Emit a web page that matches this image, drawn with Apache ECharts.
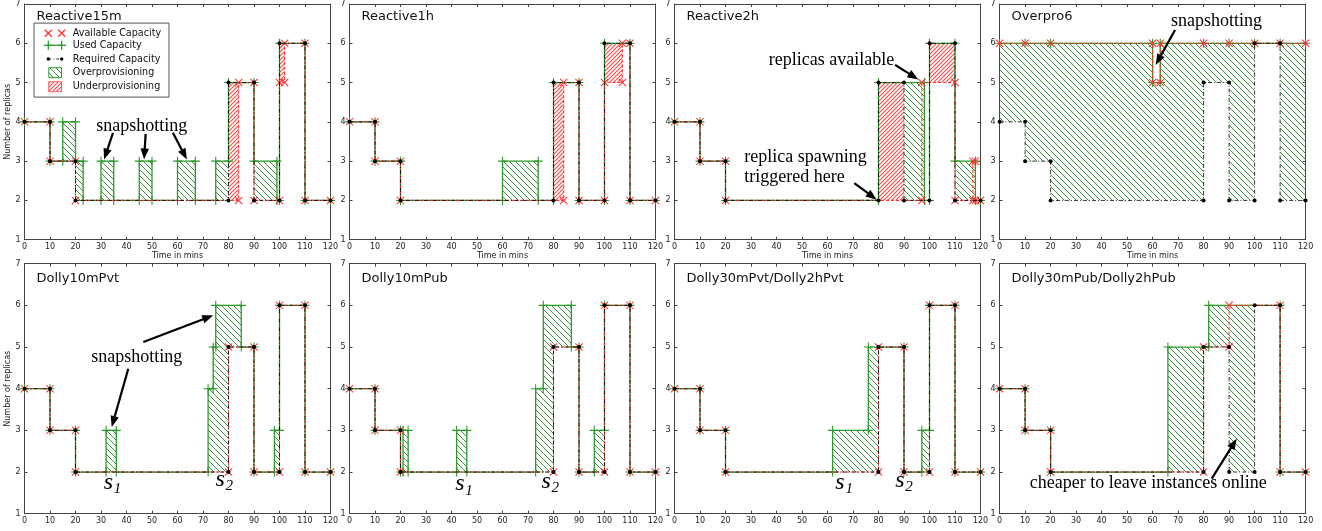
<!DOCTYPE html>
<html><head><meta charset="utf-8">
<script src="https://cdn.jsdelivr.net/npm/echarts@6.0.0/dist/echarts.min.js"></script>
<style>html,body{margin:0;padding:0;background:#fff}#c{width:1322px;height:531px}</style>
</head><body><div id="c"></div>
<script>
// ---------------- DATA ----------------
const panelTitles = ['Reactive15m','Reactive1h','Reactive2h','Overpro6',
  'Dolly10mPvt','Dolly10mPub','Dolly30mPvt/Dolly2hPvt','Dolly30mPub/Dolly2hPub'];
const xTicks = [0,10,20,30,40,50,60,70,80,90,100,110,120];
const yTicks = [1,2,3,4,5,6,7];
// step series: [time in mins, replicas] - value holds from that time on
const requiredCapacity = [[0,4],[10,3],[20,2],[80,5],[90,2],[100,6],[110,2]];
const usedReactive15m  = [[0,4],[10,3],[15,4],[20,3],[23,2],[30,3],[35,2],[45,3],[50,2],[60,3],[67,2],[75,3],[80,5],[90,3],[99,2],[100,6],[110,2]];
const availReactive15m = [[0,4],[10,3],[20,2],[84,5],[90,2],[100,5],[102,6],[110,2]];
const usedReactive1h   = [[0,4],[10,3],[20,2],[60,3],[74,2],[80,5],[90,2],[100,6],[110,2]];
const availReactive1h  = [[0,4],[10,3],[20,2],[84,5],[90,2],[100,5],[107,6],[110,2]];
const usedReactive2h   = [[0,4],[10,3],[20,2],[80,5],[98,2],[100,6],[110,3],[118,2]];
const availReactive2h  = [[0,4],[10,3],[20,2],[97,5],[110,2],[117,3],[118,2]];
const usedOverpro6     = [[0,6],[10,6],[20,6],[60,5],[63,6],[80,6],[90,6],[100,6],[110,6]];
const availOverpro6    = [[0,6],[10,6],[20,6],[60,5],[63,6],[80,6],[90,6],[100,6],[110,6]];
const usedDolly10mPvt  = [[0,4],[10,3],[20,2],[32,3],[36,2],[72,4],[74,5],[75,6],[85,5],[90,2],[98,3],[100,6],[110,2]];
const availDolly10mPvt = [[0,4],[10,3],[20,2],[80,5],[90,2],[100,6],[110,2]];
const usedDolly10mPub  = [[0,4],[10,3],[20,2],[21,3],[23,2],[42,3],[46,2],[73,4],[76,6],[87,5],[90,2],[96,3],[100,6],[110,2]];
const availDolly10mPub = [[0,4],[10,3],[20,2],[80,5],[90,2],[100,6],[110,2]];
const usedDolly30mPvt  = [[0,4],[10,3],[20,2],[62,3],[76,5],[90,2],[97,3],[100,6],[110,2]];
const availDolly30mPvt = [[0,4],[10,3],[20,2],[80,5],[90,2],[100,6],[110,2]];
const usedDolly30mPub  = [[0,4],[10,3],[20,2],[66,5],[82,6],[110,2]];
const availDolly30mPub = [[0,4],[10,3],[20,2],[80,5],[90,6],[110,2]];

const usedList  = [usedReactive15m, usedReactive1h, usedReactive2h, usedOverpro6,
                   usedDolly10mPvt, usedDolly10mPub, usedDolly30mPvt, usedDolly30mPub];
const availList = [availReactive15m, availReactive1h, availReactive2h, availOverpro6,
                   availDolly10mPvt, availDolly10mPub, availDolly30mPvt, availDolly30mPub];

// annotations (data coordinates of each panel)
const noteTexts = [
  {panel:0, text:'snapshotting', at:[46,3.9]},
  {panel:2, text:'replicas available', at:[61.6,5.58]},
  {panel:2, text:'replica spawning\ntriggered here', at:[27.4,2.845], align:'left'},
  {panel:3, text:'snapshotting', at:[85.1,6.55]},
  {panel:4, text:'snapshotting', at:[44,4.76]},
  {panel:7, text:'cheaper to leave instances online', at:[58.3,1.72]}
];
const noteArrows = [
  {panel:0, from:[34.7,3.72], to:[31.2,3.04]},
  {panel:0, from:[47.5,3.69], to:[46.9,3.04]},
  {panel:0, from:[58.2,3.72], to:[63.7,3.04]},
  {panel:2, from:[86.5,5.45], to:[95.6,5.08]},
  {panel:2, from:[70.5,2.44], to:[79.3,2.02]},
  {panel:3, from:[68.8,6.34], to:[61.2,5.45]},
  {panel:4, from:[46.6,5.12], to:[74.0,5.76]},
  {panel:4, from:[40.7,4.48], to:[34.2,3.08]},
  {panel:7, from:[83.2,1.84], to:[93.0,2.8]}
];
const snapLabels = [
  {panel:4, sub:'1', at:[32.9,1.69]}, {panel:4, sub:'2', at:[76.7,1.76]},
  {panel:5, sub:'1', at:[43.3,1.65]}, {panel:5, sub:'2', at:[77.1,1.71]},
  {panel:6, sub:'1', at:[64.9,1.69]}, {panel:6, sub:'2', at:[88.4,1.73]}
];

// ---------------- HELPERS ----------------
const XMIN = xTicks[0], XMAX = xTicks[xTicks.length-1];
function stepVertices(ch) {
  const out = [];
  ch.forEach(([t, v], i) => {
    if (i === 0) { out.push([t, v]); return; }
    const pv = ch[i-1][1];
    out.push([t, pv]);
    if (pv !== v) out.push([t, v]);
  });
  out.push([XMAX, ch[ch.length-1][1]]);
  return out;
}
function valAt(ch, t) { let v = ch[0][1]; for (const [tt, vv] of ch) if (tt <= t) v = vv; return v; }
function provisioning(used, avail, req) {
  const ts = Array.from(new Set([...used, ...avail, ...req].map(d => d[0]).concat([XMAX]))).sort((a,b)=>a-b);
  const over = [], under = [];
  const push = (arr, r) => {
    const last = arr[arr.length-1];
    if (last && last[1] === r[0] && last[2] === r[2] && last[3] === r[3]) last[1] = r[1]; else arr.push(r);
  };
  for (let i = 0; i < ts.length-1; i++) {
    const a = ts[i], b = ts[i+1], m = (a+b)/2;
    const u = valAt(used, m), v = valAt(avail, m), r = valAt(req, m);
    if (u > r) push(over, [a, b, r, u]);
    if (v < r) push(under, [a, b, v, r]);
  }
  return {over, under};
}
function hatchCanvas(color, s, dir, lw) {
  const c = document.createElement('canvas'); c.width = c.height = s;
  const g = c.getContext('2d'); g.strokeStyle = color; g.lineWidth = lw; g.beginPath();
  if (dir === 'back') {
    g.moveTo(0,0); g.lineTo(s,s); g.moveTo(-1,s-1); g.lineTo(1,s+1); g.moveTo(s-1,-1); g.lineTo(s+1,1);
  } else {
    g.moveTo(0,s); g.lineTo(s,0); g.moveTo(-1,1); g.lineTo(1,-1); g.moveTo(s-1,s+1); g.lineTo(s+1,s-1);
  }
  g.stroke(); return c;
}
const greenPat = {image: hatchCanvas('#379637', 6, 'back', 1.0), repeat: 'repeat'};
const redPat   = {image: hatchCanvas('#ff4a4a', 4, 'fwd', 1.1), repeat: 'repeat'};

const GREEN = '#2a9a2a', RED = '#ff3030', FONT = 'DejaVu Sans', SERIF = 'Liberation Serif';
const PLUS = 'path://M0,4.4H10V5.6H0Z M4.4,0H5.6V10H4.4Z';
const CROSS = 'path://M0,0.9L0.9,0L10,9.1L9.1,10Z M9.1,0L10,0.9L0.9,10L0,9.1Z';

// ---------------- LAYOUT ----------------
const colLeft = [24.5, 349.5, 674.5, 999.6], plotW = 306;
const rowTop = [2.1, 263.7], rowH = [237.6, 250];

const grids = [], xAxes = [], yAxes = [], series = [], titles = [];
const axisCol = '#444';
panelTitles.forEach((title, i) => {
  const col = i % 4, row = Math.floor(i / 4);
  grids.push({left: colLeft[col], top: rowTop[row], width: plotW, height: rowH[row]});
  titles.push({text: title, left: colLeft[col] + 12, top: rowTop[row] + 8, padding: 0,
    textStyle: {fontSize: 13, fontWeight: 'normal', fontFamily: FONT, color: '#111'}});
});
const baseX = (i, pos) => ({gridIndex: i, type: 'value', min: XMIN, max: XMAX, interval: xTicks[1]-xTicks[0], position: pos,
  axisLine: {show: true, onZero: false, lineStyle: {color: axisCol, width: 1}},
  axisTick: {show: true, inside: true, length: 3, lineStyle: {color: axisCol}},
  splitLine: {show: false}});
const baseY = (i, pos) => ({gridIndex: i, type: 'value', min: yTicks[0], max: yTicks[yTicks.length-1], interval: 1, position: pos,
  axisLine: {show: true, onZero: false, lineStyle: {color: axisCol, width: 1}},
  axisTick: {show: true, inside: true, length: 3, lineStyle: {color: axisCol}},
  splitLine: {show: false}});
const lblStyle = {fontSize: 8, color: '#222', fontFamily: FONT};
for (let i = 0; i < 8; i++) {
  const row = Math.floor(i / 4);
  xAxes.push(Object.assign(baseX(i, 'bottom'), {axisLabel: Object.assign({margin: 3.5}, lblStyle),
    name: row === 0 ? 'Time in mins' : '', nameLocation: 'middle', nameGap: 12, nameTextStyle: lblStyle}));
  yAxes.push(Object.assign(baseY(i, 'left'), {axisLabel: Object.assign({margin: 4}, lblStyle),
    name: (i % 4 === 0) ? 'Number of replicas' : '', nameLocation: 'middle', nameGap: 9,
    nameTextStyle: {fontSize: 8, color: '#222', fontFamily: FONT}}));
}
for (let i = 0; i < 8; i++) {
  xAxes.push(Object.assign(baseX(i, 'top'), {axisLabel: {show: false}}));
  yAxes.push(Object.assign(baseY(i, 'right'), {axisLabel: {show: false}}));
}

const rectRender = pat => (params, api) => {
  const a = api.coord([api.value(0), api.value(3)]);
  const b = api.coord([api.value(1), api.value(2)]);
  return {type: 'rect', shape: {x: a[0], y: a[1], width: b[0]-a[0], height: b[1]-a[1]}, style: {fill: pat}};
};
for (let i = 0; i < 8; i++) {
  const prov = provisioning(usedList[i], availList[i], requiredCapacity);
  const common = {xAxisIndex: i, yAxisIndex: i, silent: true, animation: false};
  series.push(Object.assign({type: 'custom', name: 'Overprovisioning', z: 1, renderItem: rectRender(greenPat),
    dimensions: ['x0','x1','y0','y1'], encode: {x: [0,1], y: [2,3]}, data: prov.over}, common));
  series.push(Object.assign({type: 'custom', name: 'Underprovisioning', z: 1, renderItem: rectRender(redPat),
    dimensions: ['x0','x1','y0','y1'], encode: {x: [0,1], y: [2,3]}, data: prov.under}, common));
  series.push(Object.assign({type: 'line', name: 'Used Capacity', z: 2, data: stepVertices(usedList[i]),
    symbol: PLUS, symbolSize: 9, showSymbol: true, itemStyle: {color: GREEN, borderWidth: 0},
    lineStyle: {color: GREEN, width: 1.3}}, common));
  series.push(Object.assign({type: 'line', name: 'Available Capacity', z: 3, data: stepVertices(availList[i]),
    symbol: CROSS, symbolSize: 8, showSymbol: true, itemStyle: {color: RED, borderWidth: 0},
    lineStyle: {color: RED, width: 1.1, type: [3, 2]}}, common));
  series.push(Object.assign({type: 'line', name: 'Required Capacity', z: 4, data: stepVertices(requiredCapacity),
    symbol: 'circle', symbolSize: 4, showSymbol: true, itemStyle: {color: '#000', borderWidth: 0},
    lineStyle: {color: '#000', width: 0.8, type: [4, 2, 1, 2]}}, common));
}

const chart = echarts.init(document.getElementById('c'));
chart.setOption({animation: false, backgroundColor: '#fff', title: titles, grid: grids,
  xAxis: xAxes, yAxis: yAxes, series: series});

// ---------------- LEGEND + ANNOTATIONS (graphic) ----------------
const G = [];
(function legend() {
  const L = colLeft[0], T = rowTop[0];
  const bx = L + 9.5, by = T + 21, rows = [by+10.2, by+22.2, by+35.9, by+49.6, by+63.6];
  const s1 = L + 23.8, s2 = L + 37.2, tx = L + 48.2;
  const kids = [{type: 'rect', shape: {x: bx, y: by, width: 135, height: 74}, style: {fill: '#fff', stroke: '#555', lineWidth: 1}}];
  const names = ['Available Capacity','Used Capacity','Required Capacity','Overprovisioning','Underprovisioning'];
  names.forEach((n, k) => kids.push({type: 'text', x: tx, y: rows[k],
    style: {text: n, fontSize: 9.6, fontFamily: FONT, fill: '#111', verticalAlign: 'middle', align: 'left'}}));
  const cross = (cx, cy) => [[-3.5,-3.5,3.5,3.5],[-3.5,3.5,3.5,-3.5]].map(d => ({type: 'line',
    shape: {x1: cx+d[0], y1: cy+d[1], x2: cx+d[2], y2: cy+d[3]}, style: {stroke: RED, lineWidth: 1.3}}));
  const plus = (cx, cy) => [[-4.5,0,4.5,0],[0,-4.5,0,4.5]].map(d => ({type: 'line',
    shape: {x1: cx+d[0], y1: cy+d[1], x2: cx+d[2], y2: cy+d[3]}, style: {stroke: GREEN, lineWidth: 1.3}}));
  kids.push(...cross(s1, rows[0]), ...cross(s2, rows[0]));
  kids.push({type: 'line', shape: {x1: s1, y1: rows[1], x2: s2, y2: rows[1]}, style: {stroke: GREEN, lineWidth: 1.2}});
  kids.push(...plus(s1, rows[1]), ...plus(s2, rows[1]));
  kids.push({type: 'line', shape: {x1: s1, y1: rows[2], x2: s2, y2: rows[2]}, style: {stroke: '#000', lineWidth: 0.8, lineDash: [3,2,1,2]}});
  kids.push({type: 'circle', shape: {cx: s1, cy: rows[2], r: 1.7}, style: {fill: '#000'}});
  kids.push({type: 'circle', shape: {cx: s2, cy: rows[2], r: 1.7}, style: {fill: '#000'}});
  kids.push({type: 'rect', shape: {x: s1 + 0.5, y: rows[3]-5, width: 12.7, height: 10}, style: {fill: greenPat, stroke: GREEN, lineWidth: 1}});
  kids.push({type: 'rect', shape: {x: s1 + 0.5, y: rows[4]-5, width: 12.7, height: 10}, style: {fill: redPat, stroke: '#ff5a5a', lineWidth: 1}});
  G.push({type: 'group', z: 50, children: kids});
})();
const toPx = (panel, pt) => chart.convertToPixel({seriesIndex: panel * 5 + 2}, pt);
noteTexts.forEach(n => {
  const p = toPx(n.panel, n.at);
  G.push({type: 'text', z: 60, x: p[0], y: p[1], style: {text: n.text, fontSize: 18, fontFamily: SERIF, fill: '#000',
    align: n.align || 'center', verticalAlign: 'middle', lineHeight: 20}});
});
noteArrows.forEach(a => {
  const p0 = toPx(a.panel, a.from), p1 = toPx(a.panel, a.to);
  const dx = p1[0]-p0[0], dy = p1[1]-p0[1], L = Math.hypot(dx, dy), ux = dx/L, uy = dy/L;
  const hl = 11, hw = 4.2, bx = p1[0]-ux*hl, by = p1[1]-uy*hl;
  G.push({type: 'line', z: 60, shape: {x1: p0[0], y1: p0[1], x2: bx+ux, y2: by+uy}, style: {stroke: '#000', lineWidth: 2.2}});
  G.push({type: 'polygon', z: 60, shape: {points: [[p1[0], p1[1]], [bx-uy*hw, by+ux*hw], [bx+uy*hw, by-ux*hw]]}, style: {fill: '#000'}});
});
snapLabels.forEach(s => {
  const p = toPx(s.panel, s.at);
  G.push({type: 'text', z: 60, x: p[0], y: p[1]-2.5, style: {text: 's', fontSize: 24, fontStyle: 'italic', fontFamily: SERIF, fill: '#000', align: 'center', verticalAlign: 'middle'}});
  G.push({type: 'text', z: 60, x: p[0]+9.2, y: p[1]+4, style: {text: s.sub, fontSize: 15, fontStyle: 'italic', fontFamily: SERIF, fill: '#000', align: 'center', verticalAlign: 'middle'}});
});
chart.setOption({graphic: G});
</script></body></html>
